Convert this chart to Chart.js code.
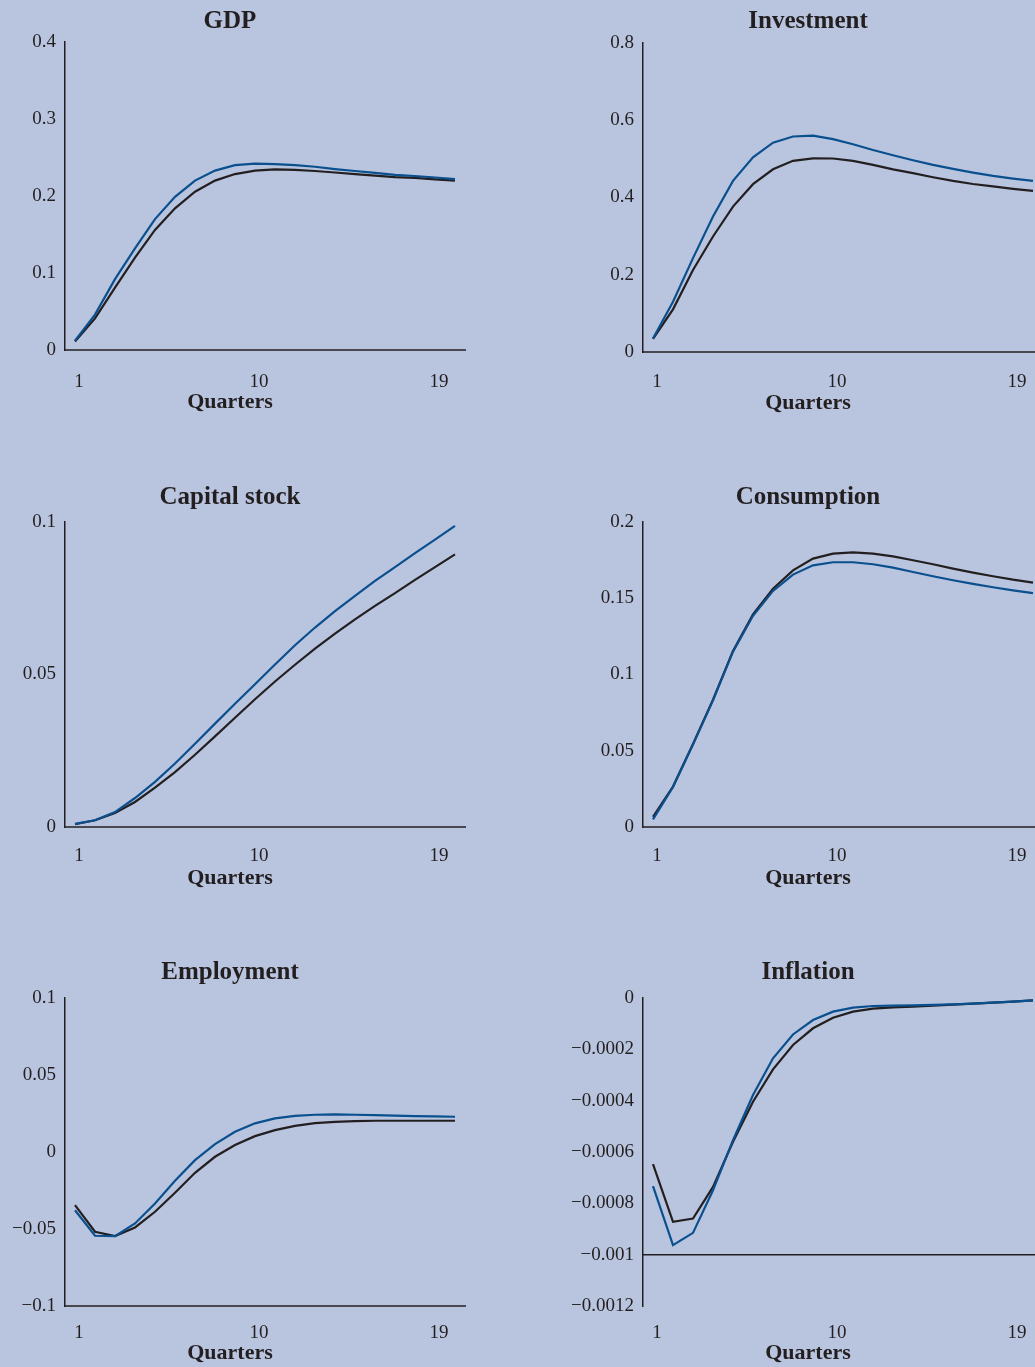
<!DOCTYPE html>
<html lang="en">
<head>
    <meta charset="UTF-8">
    <title>Impulse responses</title>
    <script src="https://cdn.jsdelivr.net/npm/chart.js"></script>
    <style>
        html, body {
            margin: 0;
            padding: 0;
            overflow: hidden;
            background-color: #b9c5df;
        }
        #wrap {
            position: relative;
            width: 1035px;
            height: 1367px;
            overflow: hidden;
            background-color: #b9c5df;
        }
        #wrap canvas {
            position: absolute;
        }
    </style>
</head>
<body>
<div id="wrap"></div>
<script>
    // Horizon and x tick labels
    var quarters = [1, 2, 3, 4, 5, 6, 7, 8, 9, 10, 11, 12, 13, 14, 15, 16, 17, 18, 19, 20];
    var quarterTicks = [1, 10, 19];

    // GDP
    var gdpBlue = [0.012, 0.046, 0.092, 0.132, 0.170, 0.199, 0.220, 0.233, 0.240, 0.242, 0.2415, 0.240, 0.238, 0.235, 0.2325, 0.230, 0.2275, 0.226, 0.224, 0.222];
    var gdpBlack = [0.011, 0.041, 0.081, 0.120, 0.156, 0.184, 0.2055, 0.220, 0.2285, 0.233, 0.2345, 0.234, 0.2325, 0.2305, 0.2285, 0.2265, 0.2245, 0.2235, 0.2215, 0.220];
    var gdpTicks = [0, 0.1, 0.2, 0.3, 0.4];

    // Investment
    var invBlue = [0.035, 0.130, 0.243, 0.351, 0.443, 0.504, 0.542, 0.558, 0.560, 0.551, 0.538, 0.523, 0.5095, 0.4965, 0.4845, 0.474, 0.4645, 0.456, 0.449, 0.443];
    var invBlack = [0.034, 0.1105, 0.2125, 0.299, 0.3765, 0.4345, 0.473, 0.495, 0.5015, 0.501, 0.495, 0.4845, 0.473, 0.463, 0.4525, 0.443, 0.435, 0.429, 0.4225, 0.417];
    var invTicks = [0, 0.2, 0.4, 0.6, 0.8];

    // Capital stock
    var capBlue = [0.0010, 0.0022, 0.0049, 0.0095, 0.0148, 0.0208, 0.0273, 0.0339, 0.0404, 0.0468, 0.0533, 0.0596, 0.0654, 0.0708, 0.0758, 0.0807, 0.0852, 0.0898, 0.0942, 0.0987];
    var capBlack = [0.0009, 0.0022, 0.0046, 0.0082, 0.0129, 0.0180, 0.0237, 0.0297, 0.0358, 0.0419, 0.0477, 0.0532, 0.0585, 0.0634, 0.0681, 0.0725, 0.0767, 0.0810, 0.0852, 0.0894];
    var capTicks = [0, 0.05, 0.1];

    // Consumption
    var consBlue = [0.0050, 0.0262, 0.0540, 0.0830, 0.1150, 0.1385, 0.1548, 0.1655, 0.1716, 0.1736, 0.1736, 0.1723, 0.1701, 0.1672, 0.1644, 0.1618, 0.1594, 0.1572, 0.1552, 0.1534];
    var consBlack = [0.0066, 0.0265, 0.0545, 0.0835, 0.1155, 0.1395, 0.1563, 0.1683, 0.1760, 0.1793, 0.1801, 0.1793, 0.1775, 0.1749, 0.1723, 0.1694, 0.1668, 0.1644, 0.1622, 0.1603];
    var consTicks = [0, 0.05, 0.1, 0.15, 0.2];

    // Employment
    var empBlue = [-0.0378, -0.0544, -0.0546, -0.0464, -0.0334, -0.0187, -0.0053, 0.0051, 0.0131, 0.0186, 0.0218, 0.0235, 0.0242, 0.0244, 0.0242, 0.0240, 0.0236, 0.0233, 0.0231, 0.0229];
    var empBlack = [-0.0345, -0.0518, -0.0546, -0.0490, -0.0388, -0.0265, -0.0135, -0.0031, 0.0045, 0.0103, 0.0142, 0.0170, 0.0188, 0.0196, 0.0201, 0.0203, 0.0203, 0.0203, 0.0203, 0.0203];
    var empTicks = [-0.1, -0.05, 0, 0.05, 0.1];

    // Inflation
    var inflBlue = [-0.000733, -0.000963, -0.000915, -0.000749, -0.000554, -0.000378, -0.000235, -0.000142, -0.0000858, -0.0000533, -0.0000377, -0.0000312, -0.0000300, -0.0000286, -0.0000270, -0.0000247, -0.0000220, -0.0000180, -0.0000143, -0.0000090];
    var inflBlack = [-0.000647, -0.000872, -0.000859, -0.000736, -0.000560, -0.000404, -0.000278, -0.000183, -0.000118, -0.0000767, -0.0000533, -0.0000416, -0.0000364, -0.0000340, -0.0000300, -0.0000260, -0.0000220, -0.0000180, -0.0000143, -0.0000090];
    var inflTicks = [-0.0012, -0.001, -0.0008, -0.0006, -0.0004, -0.0002, 0];
    var inflAxisAt = -0.001;

    var ink = '#231f20';
    var blue = '#0a4f8e';
    var serif = "'Liberation Serif', 'Times New Roman', serif";

    // where each panel sits on the page: axis corner, chart top/bottom,
    // baselines of the title and of "Quarters", centre of the x tick labels
    var panels = [
        {title: 'GDP', blue: gdpBlue, black: gdpBlack, ticks: gdpTicks, axisAt: 0,
         axisX: 65, top: 42, bottom: 350, titleBase: 28, tickY: 380, xTitleBase: 408},
        {title: 'Investment', blue: invBlue, black: invBlack, ticks: invTicks, axisAt: 0,
         axisX: 643, top: 43, bottom: 352, titleBase: 28, tickY: 380, xTitleBase: 409},
        {title: 'Capital stock', blue: capBlue, black: capBlack, ticks: capTicks, axisAt: 0,
         axisX: 65, top: 522, bottom: 827, titleBase: 504, tickY: 854, xTitleBase: 884},
        {title: 'Consumption', blue: consBlue, black: consBlack, ticks: consTicks, axisAt: 0,
         axisX: 643, top: 522, bottom: 827, titleBase: 504, tickY: 854, xTitleBase: 884},
        {title: 'Employment', blue: empBlue, black: empBlack, ticks: empTicks, axisAt: -0.1,
         axisX: 65, top: 998, bottom: 1306, titleBase: 979, tickY: 1331, xTitleBase: 1359},
        {title: 'Inflation', blue: inflBlue, black: inflBlack, ticks: inflTicks, axisAt: inflAxisAt,
         axisX: 643, top: 998, bottom: 1306, titleBase: 979, tickY: 1331, xTitleBase: 1359}
    ];

    function fmt(v) {
        return String(+v.toFixed(6)).replace('-', '\u2212');
    }

    function points(arr) {
        return quarters.map(function (q, i) { return {x: q, y: arr[i]}; });
    }

    // horizontal axis line, drawn at a chosen y value
    var baseLine = {
        id: 'baseLine',
        beforeDatasetsDraw: function (chart, args, opts) {
            var area = chart.chartArea;
            var y = chart.scales.y.getPixelForValue(opts.value);
            var ctx = chart.ctx;
            ctx.save();
            ctx.strokeStyle = ink;
            ctx.lineWidth = 1.5;
            ctx.beginPath();
            ctx.moveTo(area.left - 0.75, y);
            ctx.lineTo(area.right, y);
            ctx.stroke();
            ctx.restore();
        }
    };

    // panel heading and "Quarters" caption, centred on the canvas
    var captions = {
        id: 'captions',
        afterDraw: function (chart, args, opts) {
            var ctx = chart.ctx;
            var cx = chart.width / 2;
            ctx.save();
            ctx.fillStyle = ink;
            ctx.textAlign = 'center';
            ctx.textBaseline = 'alphabetic';
            ctx.font = 'bold 25px ' + serif;
            ctx.fillText(opts.title, cx, opts.titleY);
            ctx.font = 'bold 22px ' + serif;
            ctx.fillText('Quarters', cx, opts.xTitleY);
            ctx.restore();
        }
    };

    var wrap = document.getElementById('wrap');

    panels.forEach(function (p) {
        var canvasTop = p.titleBase - 28;
        var canvasBottom = p.xTitleBase + 8;
        var canvas = document.createElement('canvas');
        canvas.width = 500;
        canvas.height = canvasBottom - canvasTop;
        canvas.style.left = (p.axisX - 85) + 'px';
        canvas.style.top = canvasTop + 'px';
        wrap.appendChild(canvas);

        new Chart(canvas.getContext('2d'), {
            type: 'line',
            data: {
                datasets: [{
                    label: 'Alternative',
                    data: points(p.blue),
                    borderColor: blue,
                    borderWidth: 2.2,
                    pointRadius: 0,
                    tension: 0,
                    fill: false
                }, {
                    label: 'Baseline',
                    data: points(p.black),
                    borderColor: ink,
                    borderWidth: 2.2,
                    pointRadius: 0,
                    tension: 0,
                    fill: false
                }]
            },
            plugins: [baseLine, captions],
            options: {
                responsive: false,
                animation: false,
                events: [],
                layout: {
                    padding: {
                        left: 0,
                        right: 14,
                        top: p.top - canvasTop,
                        bottom: canvasBottom - p.bottom - 40
                    }
                },
                plugins: {
                    legend: { display: false },
                    tooltip: { enabled: false },
                    baseLine: { value: p.axisAt },
                    captions: {
                        title: p.title,
                        titleY: p.titleBase - canvasTop,
                        xTitleY: p.xTitleBase - canvasTop
                    }
                },
                scales: {
                    x: {
                        type: 'linear',
                        min: 0.5,
                        max: 20.55,
                        grid: { display: false, drawTicks: false },
                        border: { display: false },
                        afterBuildTicks: function (scale) {
                            scale.ticks = quarterTicks.map(function (v) { return {value: v}; });
                        },
                        afterFit: function (scale) { scale.height = 40; },
                        ticks: {
                            color: ink,
                            font: { family: serif, size: 19, lineHeight: '22px' },
                            padding: p.tickY - p.bottom - 9,
                            labelOffset: 4,
                            maxRotation: 0,
                            autoSkip: false,
                            callback: function (v) { return String(v); }
                        }
                    },
                    y: {
                        min: p.ticks[0],
                        max: p.ticks[p.ticks.length - 1],
                        grid: { display: false, drawTicks: false },
                        border: { display: true, color: ink, width: 1.5 },
                        afterBuildTicks: function (scale) {
                            scale.ticks = p.ticks.map(function (v) { return {value: v}; });
                        },
                        afterFit: function (scale) { scale.width = 85; },
                        ticks: {
                            color: ink,
                            font: { family: serif, size: 19, lineHeight: '22px' },
                            padding: 9,
                            autoSkip: false,
                            callback: function (v) { return fmt(v); }
                        }
                    }
                }
            }
        });
    });
</script>
</body>
</html>
